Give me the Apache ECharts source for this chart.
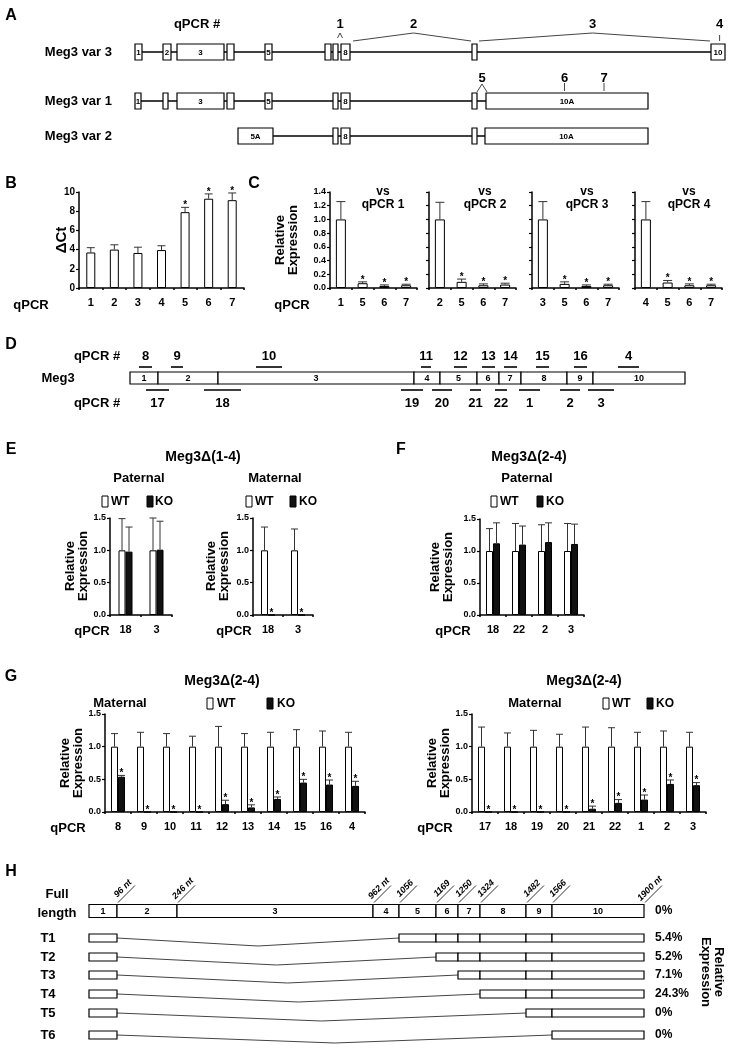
<!DOCTYPE html>
<html><head><meta charset="utf-8">
<script src="https://cdn.jsdelivr.net/npm/echarts@6/dist/echarts.min.js"></script>
<style>html,body{margin:0;padding:0;background:#fff}#c{width:732px;height:1050px}</style>
</head><body><div id="c"></div>
<script>
// ================= DATA =================
// Panel A: exon spans (schematic units from first exon) and labels
const aVar3 = [[1,8,'1'],[29,37,'2'],[43,90,'3'],[93,100,''],[131,138,'5'],[191,197,''],[199,204,''],[207,216,'8'],[338,343,''],[577,591,'10']];
const aVar1 = [[1,7,'1'],[29,34,''],[43,90,'3'],[93,100,''],[131,138,'5'],[199,204,''],[207,216,'8'],[338,343,''],[352,514,'10A']];
const aVar2 = [[104,139,'5A'],[199,204,''],[207,216,'8'],[338,343,''],[351,514,'10A']];
const aSpanPrimers = [[219,279.5,337,'2'],[345,458.5,576,'3']];
const aCaretVar3 = [[206,'1']];
const aTickVar3 = [[585.6,'4']];
const aCaretVar1 = [[348,'5']];
const aTickVar1 = [[430.5,'6'],[470,'7']];

// Panel B
const bCats = ['1','2','3','4','5','6','7'];
const bVals = [3.7,4.0,3.65,3.95,7.9,9.3,9.15];
const bErr  = [4.2,4.5,4.25,4.4,8.4,9.8,9.9];
const bStar = [0,0,0,0,1,1,1];

// Panel C
const cCats = [['1','5','6','7'],['2','5','6','7'],['3','5','6','7'],['4','5','6','7']];
const cVals = [[1.0,0.07,0.03,0.04],[1.0,0.09,0.04,0.05],[1.0,0.06,0.03,0.04],[1.0,0.08,0.04,0.04]];
const cErr  = [[1.26,0.09,0.045,0.055],[1.25,0.13,0.06,0.07],[1.26,0.09,0.045,0.055],[1.26,0.11,0.06,0.055]];
const cStar = [0,1,1,1];
const cTitles = ['qPCR 1','qPCR 2','qPCR 3','qPCR 4'];

// Panel D / H shared exon edges (schematic units) and primers
const exonEdges = [0,28,88,284,310,347,369,391,437,463,555];
const exonNames = ['1','2','3','4','5','6','7','8','9','10'];
const dUpper = [[9,22,'8'],[41,53,'9'],[126,152,'10'],[291,301,'11'],[324,337,'12'],[352,365,'13'],[374,387,'14'],[406,419,'15'],[444,457,'16'],[488,509,'4']];
const dLower = [[16,39,'17'],[74,111,'18'],[271,293,'19'],[302,322,'20'],[340,351,'21'],[365,377,'22'],[389,410,'1'],[430,450,'2'],[458,484,'3']];

// Panel E
const eCats = ['18','3'];
const ePatWT = [1.0,1.0],  ePatWTErr = [1.49,1.50];
const ePatKO = [0.98,1.01], ePatKOErr = [1.36,1.45];
const eMatWT = [1.0,1.0],  eMatWTErr = [1.36,1.33];
const eMatKO = [0,0],      eMatKOErr = [null,null], eMatKOStar = [1,1];

// Panel F
const fCats = ['18','22','2','3'];
const fWT = [1,1,1,1], fWTErr = [1.35,1.43,1.41,1.43];
const fKO = [1.12,1.10,1.14,1.11], fKOErr = [1.44,1.39,1.44,1.42];

// Panel G
const g1Cats = ['8','9','10','11','12','13','14','15','16','4'];
const g1WT = [1,1,1,1,1,1,1,1,1,1];
const g1WTErr = [1.20,1.22,1.20,1.16,1.31,1.20,1.22,1.26,1.24,1.22];
const g1KO = [0.54,0,0,0,0.12,0.07,0.20,0.45,0.42,0.40];
const g1KOErr = [0.56,null,null,null,0.18,0.11,0.23,0.50,0.49,0.47];
const g2Cats = ['17','18','19','20','21','22','1','2','3'];
const g2WT = [1,1,1,1,1,1,1,1,1];
const g2WTErr = [1.30,1.21,1.25,1.19,1.30,1.29,1.22,1.24,1.22];
const g2KO = [0,0,0,0,0.05,0.14,0.19,0.43,0.41];
const g2KOErr = [null,null,null,null,0.09,0.19,0.26,0.49,0.45];

// Panel H
const hEdgeLabels = ['96 nt','246 nt','962 nt','1056','1169','1250','1324','1482','1566','1900 nt'];
const hNames = ['T1','T2','T3','T4','T5','T6'];
const hFirstExon = [5,6,7,8,9,10];
const hRel = ['5.4%','5.2%','7.1%','24.3%','0%','0%'];
const hFullRel = '0%';

// ================= BUILD =================
const F = "'Liberation Sans', Arial, sans-serif";
const FN = "'Liberation Sans Narrow', 'Liberation Sans', Arial, sans-serif";
const grids=[], xAxes=[], yAxes=[], series=[], graphics=[];

function T(text, x, y, size, o) {
  o = o || {};
  graphics.push({type:'text', x:x, y:y, rotation:o.rot||0, silent:true, z:10,
    style:{text:text, font:(o.italic?'italic ':'')+'bold '+size+'px '+(o.font||F), fill:'#000',
      align:o.align||'center', verticalAlign:'middle', textAlign:o.align||'center', textVerticalAlign:'middle'}});
}
function R(x,y,w,h,fill){
  graphics.push({type:'rect', silent:true, shape:{x:x,y:y,width:w,height:h}, style:{fill:fill, stroke:'#000', lineWidth:1}});
}

function barGrid(rect, cats, yMax, yInt, showY, dec, yfs) {
  const gi = grids.length;
  grids.push({left:rect[0], top:rect[1], width:rect[2], height:rect[3]});
  xAxes.push({type:'category', gridIndex:gi, data:cats, boundaryGap:true,
    axisLine:{show:true, lineStyle:{color:'#000', width:1.5}},
    axisTick:{show:true, length:2, lineStyle:{color:'#000', width:1.5}},
    axisLabel:{color:'#000', fontWeight:'bold', fontSize:11, fontFamily:F, margin:9, interval:0}});
  yAxes.push({type:'value', gridIndex:gi, min:0, max:yMax, interval:yInt,
    axisLine:{show:true, lineStyle:{color:'#000', width:1.5}},
    axisTick:{show:true, length:3, lineStyle:{color:'#000', width:1.2}},
    axisLabel:{show:showY, color:'#000', fontWeight:'bold', fontSize:yfs||9, fontFamily:F, margin:4,
      formatter:function(v){return dec? v.toFixed(dec): String(Math.round(v));}},
    splitLine:{show:false}});
  return gi;
}
function bars(gi, vals, color, bw) {
  series.push({type:'bar', xAxisIndex:gi, yAxisIndex:gi, data:vals, barWidth:bw, barGap:'0%', silent:true,
    itemStyle:{color:color, borderColor:'#000', borderWidth:1}});
}
function errs(gi, vals, tops, stars, side, bw, cap) {
  const data = vals.map(function(v,i){ return [i, tops[i]==null? v : tops[i], v, stars&&stars[i]?1:0]; });
  series.push({type:'custom', xAxisIndex:gi, yAxisIndex:gi, data:data, encode:{x:0,y:1}, clip:false, silent:true, z:5,
    renderItem:function(params, api){
      const i=api.value(0), top=api.value(1), v=api.value(2), st=api.value(3);
      const pb=api.coord([i,v]), pt=api.coord([i,top]);
      const x = pb[0] + side*bw/2;
      const ch=[];
      if (top>v) {
        ch.push({type:'line', shape:{x1:x,y1:pb[1],x2:x,y2:pt[1]}, style:{stroke:'#333', lineWidth:1}});
        ch.push({type:'line', shape:{x1:x-cap/2,y1:pt[1],x2:x+cap/2,y2:pt[1]}, style:{stroke:'#333', lineWidth:1}});
      }
      if (st) ch.push({type:'text', style:{text:'*', x:x, y:pt[1]+3, align:'center', verticalAlign:'bottom', textAlign:'center', textVerticalAlign:'bottom', font:'bold 10px '+F, fill:'#000'}});
      return {type:'group', children:ch};
    }});
}
function schemGrid(rect, xMax, yMax) {
  const gi=grids.length;
  grids.push({left:rect[0], top:rect[1], width:rect[2], height:rect[3]});
  xAxes.push({type:'value', gridIndex:gi, min:0, max:xMax, show:false, splitLine:{show:false}});
  yAxes.push({type:'value', gridIndex:gi, min:0, max:yMax, inverse:true, show:false, splitLine:{show:false}});
  return gi;
}
function boxes(gi, items, row, h, fs, lw) {
  series.push({type:'custom', xAxisIndex:gi, yAxisIndex:gi, data:items.map(function(d){return [d[0],d[1],row];}),
    encode:{x:[0,1], y:2}, clip:false, silent:true, z:4,
    renderItem:function(params, api){
      const d=items[params.dataIndex];
      const p1=api.coord([api.value(0), api.value(2)]), p2=api.coord([api.value(1), api.value(2)]);
      const ch=[{type:'rect', shape:{x:p1[0], y:p1[1]-h/2, width:p2[0]-p1[0], height:h}, style:{fill:'#fff', stroke:'#000', lineWidth:lw}}];
      if (d[2]) ch.push({type:'text', style:{text:d[2], x:(p1[0]+p2[0])/2, y:p1[1]+0.5, align:'center', verticalAlign:'middle', textAlign:'center', textVerticalAlign:'middle', font:'bold '+fs+'px '+FN, fill:'#000'}});
      return {type:'group', children:ch};
    }});
}
function polys(gi, list, lw, color, z) {
  series.push({type:'custom', xAxisIndex:gi, yAxisIndex:gi, data:list.map(function(p){return [p[0][0], p[0][1]];}),
    encode:{x:0,y:1}, clip:false, silent:true, z:z||3,
    renderItem:function(params, api){
      const pts = list[params.dataIndex].map(function(p){return api.coord(p);});
      return {type:'polyline', shape:{points:pts}, style:{stroke:color, lineWidth:lw, fill:null}};
    }});
}
function texts(gi, list, fs, o) {
  o=o||{};
  series.push({type:'custom', xAxisIndex:gi, yAxisIndex:gi, data:list.map(function(t){return [t[0],t[1]];}),
    encode:{x:0,y:1}, clip:false, silent:true, z:6,
    renderItem:function(params, api){
      const p = api.coord([api.value(0), api.value(1)]);
      const t = list[params.dataIndex];
      return {type:'text', x:p[0]+(o.dx||0), y:p[1]+(o.dy||0), rotation:o.rot||0,
        style:{text:t[2], x:0, y:0, align:o.align||'center', verticalAlign:'middle', textAlign:o.align||'center', textVerticalAlign:'middle',
        font:(o.italic?'italic ':'')+'bold '+fs+'px '+(o.font||FN), fill:'#000'}};
    }});
}

// ---------- Panel A ----------
const gA = schemGrid([134,0,591,170], 591, 170);
const r3=52, r1=101, r2=136;
function spanOf(ex){ let a=Infinity,b=-Infinity; ex.forEach(function(e){a=Math.min(a,e[0]);b=Math.max(b,e[1]);}); return [a,b]; }
[[aVar3,r3],[aVar1,r1],[aVar2,r2]].forEach(function(v){ const s=spanOf(v[0]); polys(gA, [[[s[0],v[1]],[s[1],v[1]]]], 1.3, '#000', 2); });
boxes(gA, aVar3, r3, 16, 8, 1.2);
boxes(gA, aVar1, r1, 16, 8, 1.2);
boxes(gA, aVar2, r2, 16, 8, 1.2);
polys(gA, aSpanPrimers.map(function(p){return [[p[0],r3-11],[p[1],r3-19],[p[2],r3-11]];}), 1, '#444');
polys(gA, aCaretVar3.map(function(p){return [[p[0]-2.5,r3-14],[p[0],r3-19],[p[0]+2.5,r3-14]];}), 1, '#444');
polys(gA, aTickVar3.map(function(p){return [[p[0],r3-17],[p[0],r3-11]];}), 1, '#444');
polys(gA, aCaretVar1.map(function(p){return [[p[0]-5,r1-9],[p[0],r1-17],[p[0]+5,r1-9]];}), 1, '#444');
polys(gA, aTickVar1.map(function(p){return [[p[0],r1-18],[p[0],r1-10]];}), 1, '#444');
texts(gA, aSpanPrimers.map(function(p){return [p[1], r3-28, p[3]];}).concat(aCaretVar3.map(function(p){return [p[0], r3-28, p[1]];})).concat(aTickVar3.map(function(p){return [p[0], r3-28, p[1]];})), 13);
texts(gA, aCaretVar1.concat(aTickVar1).map(function(p){return [p[0], r1-23, p[1]];}), 13);
T('A', 11, 16, 16);
T('qPCR #', 197, 24, 13, {font:FN});
T('Meg3 var 3', 112, r3, 13, {font:FN, align:'right'});
T('Meg3 var 1', 112, r1, 13, {font:FN, align:'right'});
T('Meg3 var 2', 112, r2, 13, {font:FN, align:'right'});

// ---------- Panel B ----------
const gB = barGrid([79,192,165,96], bCats, 10, 2, true, 0, 10);
bars(gB, bVals, '#fff', 9);
errs(gB, bVals, bErr, bStar, 0, 9, 8);
T('B', 11, 184, 16);
T('\u0394Ct', 62, 240, 15, {rot:Math.PI/2});
T('qPCR', 31, 305, 13);

// ---------- Panel C ----------
const cLefts = [330,429,532,635];
const cTitleX = [383,485,587,689];
cCats.forEach(function(cats, k){
  const g = barGrid([cLefts[k],192,87,96], cats, 1.4, 0.2, k===0, 1, 9);
  bars(g, cVals[k], '#fff', 10);
  errs(g, cVals[k], cErr[k], cStar, 0, 10, 9);
  T('vs', cTitleX[k], 192, 12);
  T(cTitles[k], cTitleX[k], 205, 12);
});
T('C', 254, 184, 16);
T('Relative\nExpression', 287, 240, 13, {rot:Math.PI/2});
T('qPCR', 292, 305, 13);

// ---------- Panel D ----------
const gD = schemGrid([130,340,555,80], 555, 80);
const dBox=38, dUpBar=27, dUpLab=16, dLoBar=50, dLoLab=63;
boxes(gD, exonNames.map(function(n,i){return [exonEdges[i], exonEdges[i+1], n];}), dBox, 12, 9, 1.2);
polys(gD, dUpper.map(function(p){return [[p[0],dUpBar],[p[1],dUpBar]];}), 1.6, '#000');
polys(gD, dLower.map(function(p){return [[p[0],dLoBar],[p[1],dLoBar]];}), 1.6, '#000');
texts(gD, dUpper.map(function(p){return [(p[0]+p[1])/2, dUpLab, p[2]];}), 13);
texts(gD, dLower.map(function(p){return [(p[0]+p[1])/2, dLoLab, p[2]];}), 13);
T('D', 11, 345, 16);
T('qPCR #', 97, 340+dUpLab, 13, {font:FN});
T('Meg3', 58, 340+dBox, 13, {font:FN});
T('qPCR #', 97, 340+dLoLab, 13, {font:FN});

// ---------- Panel E ----------
const gE1 = barGrid([110,518,62,97], eCats, 1.5, 0.5, true, 1);
bars(gE1, ePatWT, '#fff', 7); bars(gE1, ePatKO, '#111', 7);
errs(gE1, ePatWT, ePatWTErr, null, -1, 7, 7);
errs(gE1, ePatKO, ePatKOErr, null, 1, 7, 7);
const gE2 = barGrid([253,518,60,97], eCats, 1.5, 0.5, true, 1);
bars(gE2, eMatWT, '#fff', 7); bars(gE2, eMatKO, '#111', 7);
errs(gE2, eMatWT, eMatWTErr, null, -1, 7, 7);
errs(gE2, eMatKO, eMatKOErr, eMatKOStar, 1, 7, 7);
T('E', 11, 450, 16);
T('Meg3\u0394(1-4)', 203, 457, 14);
T('Paternal', 139, 478, 13);
T('Maternal', 275, 478, 13);
R(102,496,6,11,'#fff'); T('WT', 111, 502, 12, {align:'left'});
R(147,496,6,11,'#111'); T('KO', 155, 502, 12, {align:'left'});
R(246,496,6,11,'#fff'); T('WT', 255, 502, 12, {align:'left'});
R(290,496,6,11,'#111'); T('KO', 299, 502, 12, {align:'left'});
T('Relative\nExpression', 77, 566, 13, {rot:Math.PI/2});
T('Relative\nExpression', 218, 566, 13, {rot:Math.PI/2});
T('qPCR', 92, 631, 13);
T('qPCR', 234, 631, 13);

// ---------- Panel F ----------
const gF = barGrid([480,519,104,96], fCats, 1.5, 0.5, true, 1);
bars(gF, fWT, '#fff', 7); bars(gF, fKO, '#111', 7);
errs(gF, fWT, fWTErr, null, -1, 7, 7);
errs(gF, fKO, fKOErr, null, 1, 7, 7);
T('F', 401, 450, 16);
T('Meg3\u0394(2-4)', 529, 457, 14);
T('Paternal', 527, 478, 13);
R(491,496,6,11,'#fff'); T('WT', 500, 502, 12, {align:'left'});
R(537,496,6,11,'#111'); T('KO', 546, 502, 12, {align:'left'});
T('Relative\nExpression', 442, 567, 13, {rot:Math.PI/2});
T('qPCR', 453, 631, 13);

// ---------- Panel G ----------
const gG1 = barGrid([105,714,260,98], g1Cats, 1.5, 0.5, true, 1);
bars(gG1, g1WT, '#fff', 7); bars(gG1, g1KO, '#111', 7);
errs(gG1, g1WT, g1WTErr, null, -1, 7, 7);
errs(gG1, g1KO, g1KOErr, g1KO.map(function(){return 1;}), 1, 7, 7);
const gG2 = barGrid([472,714,234,98], g2Cats, 1.5, 0.5, true, 1);
bars(gG2, g2WT, '#fff', 7); bars(gG2, g2KO, '#111', 7);
errs(gG2, g2WT, g2WTErr, null, -1, 7, 7);
errs(gG2, g2KO, g2KOErr, g2KO.map(function(){return 1;}), 1, 7, 7);
T('G', 11, 677, 16);
T('Meg3\u0394(2-4)', 222, 681, 14);
T('Meg3\u0394(2-4)', 584, 681, 14);
T('Maternal', 120, 703, 13); T('Maternal', 535, 703, 13);
R(207,698,6,11,'#fff'); T('WT', 217, 704, 12, {align:'left'});
R(267,698,6,11,'#111'); T('KO', 277, 704, 12, {align:'left'});
R(603,698,6,11,'#fff'); T('WT', 612, 704, 12, {align:'left'});
R(647,698,6,11,'#111'); T('KO', 656, 704, 12, {align:'left'});
T('Relative\nExpression', 72, 763, 13, {rot:Math.PI/2});
T('Relative\nExpression', 439, 763, 13, {rot:Math.PI/2});
T('qPCR', 68, 828, 13);
T('qPCR', 435, 828, 13);

// ---------- Panel H ----------
const gH = schemGrid([89,860,555,190], 555, 190);
const hFull=51, hRows=[78,97,115,134,153,175];
boxes(gH, exonNames.map(function(n,i){return [exonEdges[i], exonEdges[i+1], n];}), hFull, 13, 9, 1.2);
hRows.forEach(function(ry, k){
  const first = hFirstExon[k]-1;
  const items = [[exonEdges[0], exonEdges[1], '']];
  for (let i=first;i<exonNames.length;i++) items.push([exonEdges[i], exonEdges[i+1], '']);
  const a = exonEdges[1], b = exonEdges[first];
  polys(gH, [[[a,ry],[(a+b)/2,ry+8],[b,ry]]], 1, '#444', 2);
  boxes(gH, items, ry, 8, 8, 1.2);
});
// slashes + nt labels
series.push({type:'custom', xAxisIndex:gH, yAxisIndex:gH, data:exonEdges.slice(1).map(function(e){return [e, hFull];}),
  encode:{x:0,y:1}, clip:false, silent:true, z:6,
  renderItem:function(params, api){
    const p = api.coord([api.value(0), api.value(1)]);
    const y0 = p[1]-8.5;
    return {type:'group', children:[
      {type:'line', shape:{x1:p[0]+1, y1:y0, x2:p[0]+18, y2:y0-17}, style:{stroke:'#333', lineWidth:1}},
      {type:'text', x:p[0]+6, y:y0-14, rotation:Math.PI/4,
        style:{text:hEdgeLabels[params.dataIndex], x:0, y:0, align:'center', verticalAlign:'middle', textAlign:'center', textVerticalAlign:'middle', font:'italic bold 9px '+FN, fill:'#000'}}
    ]};
  }});
T('H', 11, 872, 16);
T('Full', 57, 894, 13, {font:FN});
T('length', 57, 913, 13, {font:FN});
T(hFullRel, 655, 860+hFull, 12, {font:FN, align:'left'});
hRows.forEach(function(ry,k){
  T(hNames[k], 48, 860+ry, 13, {font:FN});
  T(hRel[k], 655, 860+ry, 12, {font:FN, align:'left'});
});
T('Relative\nExpression', 712, 972, 13, {rot:-Math.PI/2});

const chart = echarts.init(document.getElementById('c'), null, {renderer:'canvas', width:732, height:1050});
chart.setOption({animation:false, grid:grids, xAxis:xAxes, yAxis:yAxes, series:series, graphic:{elements:graphics}});
</script></body></html>
